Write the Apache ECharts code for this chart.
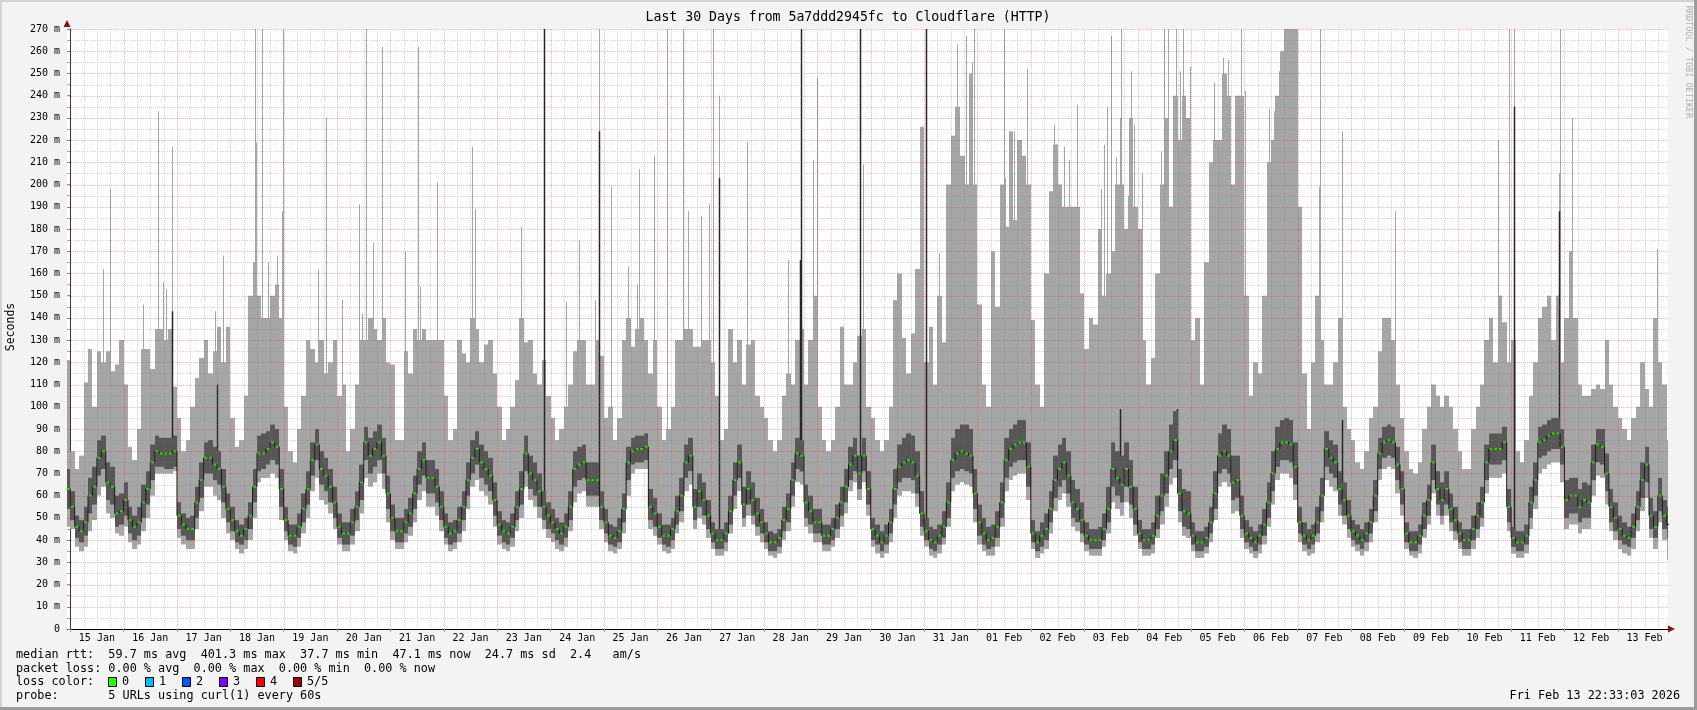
<!DOCTYPE html>
<html><head><meta charset="utf-8">
<script src="https://cdn.jsdelivr.net/npm/echarts@6/dist/echarts.min.js"></script>
<style>html,body{margin:0;padding:0;background:#f3f3f3}#c{width:1697px;height:710px}</style>
</head><body><div id="c"></div>
<script>
// ---- categories / tick labels ----
const dayLabels = ['15 Jan','16 Jan','17 Jan','18 Jan','19 Jan','20 Jan','21 Jan','22 Jan','23 Jan','24 Jan','25 Jan','26 Jan','27 Jan','28 Jan','29 Jan','30 Jan','31 Jan','01 Feb','02 Feb','03 Feb','04 Feb','05 Feb','06 Feb','07 Feb','08 Feb','09 Feb','10 Feb','11 Feb','12 Feb','13 Feb'];
// time axis in hours relative to 15 Jan 00:00; bins of 2 h, first bin centred at -1 h (14 Jan 23:00)
const firstBinHour = -1;
const binHours = 2;
// ---- series values (ms), one row per day, 12 two-hour bins ----
const med = [63,
55,46,44,48,60,64,77,80,66,64,52,53,
58,49,46,48,57,63,75,80,79,79,79,80,
51,47,45,45,57,67,77,77,74,72,64,54,
49,44,42,45,51,64,79,79,81,84,82,63,
49,42,42,46,54,63,76,83,72,69,64,57,
46,43,43,48,55,66,84,78,81,84,78,61,
50,44,44,48,52,61,72,76,68,68,64,55,
46,43,44,49,55,67,77,81,75,72,69,58,
47,44,43,46,55,63,79,70,67,62,55,51,
48,45,43,46,55,72,74,75,67,67,67,55,
48,42,41,44,54,75,80,81,81,82,55,52,
46,42,42,45,53,60,75,78,55,62,58,51,
43,40,40,43,53,67,75,56,63,58,52,48,
43,39,39,41,49,54,67,79,78,57,53,48,
48,42,42,45,50,57,64,74,78,70,78,63,
45,42,39,42,48,63,73,75,76,75,69,52,
44,40,39,42,46,57,76,79,80,79,78,61,
48,43,40,41,46,57,76,81,83,84,84,73,
43,39,42,45,54,67,72,75,69,57,54,49,
42,40,40,40,45,54,72,68,65,72,64,54,
43,40,40,42,51,60,69,80,85,61,53,52,
42,39,39,41,48,61,78,80,78,66,67,51,
43,41,39,42,47,57,70,81,84,84,83,73,
48,42,40,42,48,60,81,77,75,63,58,51,
44,42,40,43,48,60,79,84,85,84,74,63,
43,39,39,42,51,58,75,63,58,63,54,49,
43,40,40,45,51,57,75,81,81,81,84,55,
41,39,39,42,57,67,84,85,87,88,88,82,
58,60,60,55,58,57,75,83,82,70,55,50,
45,42,41,46,55,67,74,51,46,60,51,47];
const darkLo = [54,
49,41,39,42,52,56,69,72,58,56,46,47,
51,43,40,42,50,56,67,73,73,72,72,73,
45,42,40,40,50,59,70,70,67,65,57,48,
44,39,38,40,45,57,71,72,74,76,74,55,
44,38,37,41,48,56,69,76,65,62,57,50,
41,38,38,42,49,58,76,70,73,76,70,54,
44,39,39,43,46,54,65,69,61,61,57,49,
41,38,39,43,49,60,70,74,68,65,62,51,
42,39,38,41,49,56,71,63,60,55,49,45,
43,40,38,41,49,64,67,68,60,60,60,49,
43,38,37,39,48,67,74,75,75,76,49,46,
41,38,37,40,47,53,68,71,49,55,51,45,
39,36,36,39,47,60,68,50,56,51,46,43,
39,35,35,37,44,48,60,72,71,50,47,43,
43,38,38,40,45,51,57,67,71,63,71,56,
40,38,35,38,43,56,66,68,68,67,61,46,
40,36,35,38,41,50,68,71,72,71,70,54,
42,38,36,37,41,50,68,73,75,76,76,64,
39,35,37,40,48,59,64,67,61,50,48,43,
38,36,36,36,40,48,64,60,57,64,56,47,
39,36,36,38,45,53,61,72,76,53,46,45,
38,35,35,37,43,54,70,72,70,58,59,45,
39,37,35,38,42,50,62,73,76,76,75,65,
43,38,36,38,43,53,73,70,68,56,51,45,
40,38,36,39,43,53,72,77,78,77,67,56,
39,35,35,38,45,51,67,56,51,56,48,44,
39,36,36,40,45,50,67,74,74,74,76,48,
37,35,35,38,50,60,77,78,80,81,81,74,
50,52,52,48,50,50,67,75,74,62,48,44,
40,38,37,41,49,59,66,45,41,53,45,41];
const darkHi = [72,
62,51,49,55,68,73,85,87,75,73,60,61,
66,55,51,55,65,71,83,87,86,86,86,87,
57,52,50,51,64,75,84,85,82,80,72,61,
55,49,47,50,57,72,87,88,89,92,90,72,
55,47,47,52,61,71,84,90,80,77,72,64,
52,48,48,54,62,74,91,86,89,92,86,69,
56,50,50,54,59,69,80,84,76,76,72,62,
52,48,49,55,62,75,85,89,83,80,77,66,
53,49,48,52,62,71,87,78,75,70,62,57,
54,50,48,52,62,80,82,83,75,75,75,62,
54,47,46,50,61,82,86,87,87,88,63,59,
52,47,47,50,60,68,83,86,63,70,66,58,
48,45,45,48,60,75,83,64,71,66,59,54,
48,44,43,45,55,61,75,86,85,65,60,54,
54,47,47,50,56,64,72,82,86,78,86,71,
50,47,44,47,54,72,83,86,88,87,80,62,
50,46,45,47,53,66,86,90,92,92,90,72,
56,50,46,47,53,66,86,90,92,94,94,84,
49,44,48,52,62,78,83,86,80,67,63,57,
48,45,45,46,52,64,84,80,78,84,76,64,
49,45,45,48,60,70,80,92,98,72,63,62,
48,44,44,46,55,71,88,92,90,78,78,60,
49,46,44,47,54,66,80,91,94,95,94,84,
55,48,45,47,55,68,89,85,83,71,66,58,
49,47,45,48,54,67,86,91,92,91,82,71,
48,44,44,47,57,65,83,71,66,71,61,55,
48,45,45,51,57,64,83,88,88,88,91,63,
46,44,44,47,64,75,91,92,94,95,95,90,
67,68,68,63,66,65,83,90,90,79,63,57,
51,48,46,52,62,75,82,59,53,68,58,55];
const lightLo = [46,
45,37,35,37,44,49,60,64,52,50,43,42,
46,39,36,38,44,50,60,70,70,70,70,71,
41,38,36,36,45,53,64,64,60,58,50,43,
40,36,34,36,40,50,66,68,68,70,68,49,
40,35,34,37,43,50,62,68,58,56,52,45,
38,35,35,38,44,52,68,64,66,70,63,48,
40,36,36,39,42,48,58,62,55,55,51,44,
38,35,36,39,44,54,64,67,62,60,56,46,
38,36,35,37,44,50,64,58,55,50,45,41,
39,36,35,37,44,57,61,62,55,55,55,45,
39,35,34,36,43,60,70,72,72,72,45,42,
38,35,34,36,43,48,62,65,45,50,47,41,
36,33,33,35,43,54,62,46,51,47,42,39,
36,33,32,34,40,44,55,66,65,46,43,39,
39,35,35,37,41,46,52,62,66,58,66,51,
37,34,32,34,39,50,60,62,62,61,55,42,
37,33,32,34,38,46,62,65,66,65,64,48,
38,35,33,33,37,46,62,67,69,70,70,58,
36,32,34,36,43,53,58,61,55,46,44,39,
35,33,33,33,37,43,57,54,51,57,50,42,
36,33,33,34,41,47,55,65,68,48,42,41,
35,32,32,34,39,49,64,66,64,52,53,41,
36,34,32,34,38,46,56,67,70,70,68,58,
39,35,33,34,39,48,67,64,62,51,47,41,
37,35,33,35,39,48,67,72,73,72,61,51,
36,33,32,34,41,47,61,51,47,51,44,40,
36,33,33,36,41,46,61,68,68,68,70,44,
34,32,32,34,45,54,70,72,74,75,75,66,
45,47,47,43,45,45,60,69,68,56,44,40,
36,34,33,36,44,53,59,41,36,48,40,31];
const lightHi = [121,
80,72,78,111,126,100,125,120,125,116,119,130,
110,82,76,90,126,126,117,135,135,130,135,109,
95,80,85,100,113,122,130,115,125,136,120,136,
95,82,85,105,150,165,150,140,140,150,155,140,
100,80,75,90,105,130,126,120,130,115,120,130,
105,110,80,90,110,130,130,140,135,130,140,120,
119,85,85,125,115,135,130,135,130,130,130,130,
105,85,90,130,124,120,140,135,120,128,130,115,
100,85,90,100,112,140,129,130,115,110,121,105,
95,85,90,100,110,125,130,130,110,110,130,123,
95,100,85,95,130,140,127,135,140,130,115,130,
100,85,90,100,130,130,135,135,127,127,130,130,
120,105,85,90,135,120,130,110,128,130,105,100,
95,85,80,85,105,115,110,130,135,110,130,150,
100,85,80,85,100,136,110,110,120,132,135,100,
95,85,80,85,100,148,160,131,115,133,162,226,
120,136,110,150,129,200,222,235,213,200,250,200,
146,110,100,170,145,200,181,224,184,220,213,200,
139,110,100,160,197,218,200,190,190,190,190,151,
126,140,137,180,150,160,170,200,200,180,230,190,
180,130,110,122,160,200,230,190,240,220,240,230,
130,140,110,165,210,220,220,250,240,200,240,240,
150,105,120,115,150,210,220,240,260,270,270,270,
190,115,90,120,150,130,110,110,120,140,100,90,
85,75,72,80,95,100,125,140,140,130,110,95,
80,72,70,75,90,100,110,105,100,105,100,90,
80,72,72,90,100,110,130,140,120,150,138,120,
130,80,75,85,105,120,140,145,150,130,150,120,
140,170,140,110,105,105,108,110,108,130,110,100,
95,90,85,95,100,120,108,100,140,120,110,85];
// thin single-sample outliers: [hour, ms]
const lightSpikes = [[14.7,162],[17.9,198],[32.9,146],[39.6,233],[41.6,156],[43.1,153],[45.6,195],[45.8,217],[65.1,143],[68.9,168],
[83.1,270],[83.7,219],[86.4,270],[89.0,165],[93.2,168],[95.3,188],[95.6,270],[111.6,162],[115.1,230],[122.1,148],[129.9,191],[131.0,142],[133.1,270],
[136.1,174],[140.3,262],[150.6,170],[156.6,262],[157.5,154],[164.9,201],[180.6,217],[182.1,189],[202.8,181],[223.0,147],[228.6,175],[236.0,148],[237.9,270],[243.3,199],
[250.9,163],[255.0,155],[255.6,207],[262.4,213],[268.4,270],[275.4,270],[277.7,188],[283.7,186],[287.4,191],[289.1,270],[291.6,240],[304.4,219],
[322.7,166],[334.1,211],[335.9,248],[356.4,209],[383.1,226],[390.6,169],[396.3,222],[398.1,235],[398.9,263],[401.9,213],
[402.9,267],[405.6,255],[406.4,270],[419.9,270],[420.6,203],[424.4,224],[426.6,220],[430.4,252],[442.4,227],[443.1,218],
[446.9,217],[449.1,211],[452.9,236],[463.6,198],[464.7,218],[466.4,235],[468.1,267],[470.2,212],[471.9,230],[472.6,270],
[475.6,195],[476.9,251],[478.5,227],[481.9,205],[490.5,215],[491.9,270],[493.9,270],[497.2,270],[498.9,251],[500.5,270],
[503.5,253],[514.3,246],[518.5,257],[520.5,256],[525.2,230],[526.3,270],[528.5,242],[539.3,234],[541.3,233],[543.8,251],
[561.8,199],[562.1,270],[571.8,224],[595.8,188],[642.1,220],[647.0,270],[649.2,270],[669.5,205],[670.0,270],[675.4,230],[713.6,171]];
const darkSpikes = [[45.8,143],[65.9,110],[212.9,270],[237.9,224],[291.6,203],[328.2,166],[328.7,270],[355.4,270],[384.9,270],
[471.9,99],[497.9,99],[572.1,94],[649.2,235],[669.5,188]];

// ---- build ----
const X_MIN = -1.45, X_MAX = 718.55;
const binIndex = h => Math.max(0, Math.min(med.length - 1, Math.round((h - firstBinHour) / binHours)));
const hours = med.map((_, i) => firstBinHour + i * binHours);
const lightData = hours.map((h, i) => [h, lightLo[i], lightHi[i]]);
const darkData = hours.map((h, i) => [h, darkLo[i], darkHi[i]]);
const medData = hours.map((h, i) => [h, med[i]]);
const lightSpikeData = lightSpikes.map(s => [s[0], s[1], lightLo[binIndex(s[0])]]);
const darkSpikeData = darkSpikes.map(s => [s[0], s[1], darkLo[binIndex(s[0])]]);
const midnights = [], noons = [], vGrid = [], hGrid = [];
for (let d = 0; d < 30; d++) { midnights.push(d * 24); noons.push(d * 24 + 12); }
for (let h = 0; h <= X_MAX; h += 6) vGrid.push([h, 0, h % 24 === 0 ? 1 : 0]);
for (let v = 5; v <= 270; v += 5) hGrid.push([X_MIN, v, v % 10 === 0 ? 1 : 0]);

const MONO = '"DejaVu Sans Mono", monospace';
const MAJOR = 'rgba(255,0,0,0.30)', MINOR = 'rgba(120,120,120,0.32)';

function band(color) {
  return (p, api) => {
    const h = api.value(0);
    const a = api.coord([h - binHours / 2, api.value(2)]);
    const b = api.coord([h + binHours / 2, api.value(1)]);
    const x1 = Math.round(a[0]), x2 = Math.round(b[0]);
    return { type: 'rect', shape: { x: x1, y: a[1], width: x2 - x1, height: b[1] - a[1] }, style: { fill: color } };
  };
}
function spike(color, w) {
  return (p, api) => {
    const t = api.coord([api.value(0), api.value(1)]);
    const b = api.coord([api.value(0), api.value(2)]);
    const x = Math.round(t[0]) + 0.5;
    return { type: 'line', shape: { x1: x, y1: b[1], x2: x, y2: t[1] }, style: { stroke: color, lineWidth: w } };
  };
}
function vLine(p, api) {
  const a = api.coord([api.value(0), 0]), b = api.coord([api.value(0), 270]);
  const x = Math.round(a[0]) + 0.5;
  return { type: 'line', shape: { x1: x, y1: a[1], x2: x, y2: b[1] }, style: { stroke: api.value(2) ? MAJOR : MINOR, lineWidth: 1, lineDash: [1, 1] } };
}
function hLine(p, api) {
  const a = api.coord([X_MIN, api.value(1)]), b = api.coord([X_MAX, api.value(1)]);
  const y = Math.round(a[1]) + 0.5;
  return { type: 'line', shape: { x1: a[0], y1: y, x2: b[0], y2: y }, style: { stroke: api.value(2) ? MAJOR : MINOR, lineWidth: 1, lineDash: [1, 1] } };
}

const txt = (x, y, text, opt) => Object.assign({ type: 'text', x, y, silent: true,
  style: Object.assign({ text, font: '11.8px ' + MONO, fill: '#000', align: 'left', verticalAlign: 'middle', textAlign: 'left', textVerticalAlign: 'middle' }, opt || {}) });
const lossColors = [['0', '#26ff00'], ['1', '#00b8ff'], ['2', '#0059ff'], ['3', '#7e00ff'], ['4', '#ff0000'], ['5/5', '#a10000']];
const graphics = [
  { type: 'rect', shape: { x: 0, y: 0, width: 1697, height: 2 }, style: { fill: '#d2d2d2' }, silent: true },
  { type: 'rect', shape: { x: 0, y: 0, width: 2, height: 710 }, style: { fill: '#d2d2d2' }, silent: true },
  { type: 'rect', shape: { x: 0, y: 707, width: 1697, height: 3 }, style: { fill: '#9c9c9c' }, silent: true },
  { type: 'rect', shape: { x: 1694, y: 0, width: 3, height: 710 }, style: { fill: '#9c9c9c' }, silent: true },
  txt(848, 18, 'Last 30 Days from 5a7ddd2945fc to Cloudflare (HTTP)', { font: '13.2px ' + MONO, align: 'center', textAlign: 'center' }),
  Object.assign(txt(11, 327, 'Seconds', { font: '11.5px ' + MONO, align: 'center', textAlign: 'center' }), { rotation: Math.PI / 2 }),
  Object.assign(txt(1688, 62, 'RRDTOOL / TOBI OETIKER', { font: '8.5px ' + MONO, fill: '#b0b0b0', align: 'center', textAlign: 'center' }), { rotation: -Math.PI / 2 }),
  txt(16, 655, 'median rtt:  59.7 ms avg  401.3 ms max  37.7 ms min  47.1 ms now  24.7 ms sd  2.4   am/s'),
  txt(16, 669, 'packet loss: 0.00 % avg  0.00 % max  0.00 % min  0.00 % now'),
  txt(16, 682, 'loss color:'),
  txt(16, 696, 'probe:       5 URLs using curl(1) every 60s'),
  txt(1680, 696, 'Fri Feb 13 22:33:03 2026', { align: 'right', textAlign: 'right' }),
  { type: 'polygon', shape: { points: [[63.5, 27], [70.5, 27], [67, 20]] }, style: { fill: '#8b1010' }, silent: true },
  { type: 'polygon', shape: { points: [[1668, 625.5], [1668, 632.5], [1675, 629]] }, style: { fill: '#8b1010' }, silent: true }
];
lossColors.forEach((c, i) => {
  const x = 108 + i * 37;
  graphics.push({ type: 'rect', shape: { x: x + 0.5, y: 677.5, width: 8, height: 9 }, style: { fill: c[1], stroke: '#000', lineWidth: 1 }, silent: true });
  graphics.push(txt(x + 14, 682, c[0]));
});

const chart = echarts.init(document.getElementById('c'));
chart.setOption({
  animation: false,
  backgroundColor: '#f3f3f3',
  grid: { left: 67, top: 29, width: 1601, height: 600, show: true, backgroundColor: '#ffffff', borderWidth: 0 },
  xAxis: {
    type: 'value', min: X_MIN, max: X_MAX,
    axisLine: { show: true, onZero: false, lineStyle: { color: '#000', width: 1 } },
    axisTick: { show: true, customValues: midnights, length: 3, lineStyle: { color: '#e08080' } },
    axisLabel: { customValues: noons, formatter: v => dayLabels[Math.round((v - 12) / 24)], fontFamily: MONO, fontSize: 10, color: '#000', margin: 4 },
    splitLine: { show: false }
  },
  yAxis: {
    type: 'value', min: 0, max: 270, interval: 10,
    axisLine: { show: true, lineStyle: { color: '#333', width: 1 } },
    axisTick: { show: true, length: 3, lineStyle: { color: '#888' } },
    minorTick: { show: true, splitNumber: 2, length: 3, lineStyle: { color: '#aaa' } },
    axisLabel: { formatter: v => v === 0 ? '0' : v + ' m', fontFamily: MONO, fontSize: 10, color: '#000', margin: 7 },
    splitLine: { show: false }
  },
  graphic: graphics,
  series: [
    { type: 'custom', name: 'smoke', renderItem: band('#a6a6a6'), data: lightData, encode: { x: 0, y: [1, 2] }, clip: true, z: 2, silent: true },
    { type: 'custom', name: 'outliers', renderItem: spike('#a6a6a6', 1), data: lightSpikeData, encode: { x: 0, y: [1, 2] }, clip: true, z: 3, silent: true },
    { type: 'custom', name: 'darkOutliers', renderItem: spike('#262626', 1.5), data: darkSpikeData, encode: { x: 0, y: [1, 2] }, clip: true, z: 4, silent: true },
    { type: 'custom', name: 'core', renderItem: band('#575757'), data: darkData, encode: { x: 0, y: [1, 2] }, clip: true, z: 5, silent: true },
    { type: 'line', name: 'median', data: medData, step: 'middle', symbol: 'none', lineStyle: { color: '#1b1b1b', width: 1 }, z: 6, silent: true },
    { type: 'scatter', name: 'median dots', data: medData, symbol: 'rect', symbolSize: [3, 2], itemStyle: { color: '#22ff00' }, z: 7, silent: true },
    { type: 'custom', name: 'vgrid', renderItem: vLine, data: vGrid, encode: { x: 0, y: 1 }, z: 10, silent: true },
    { type: 'custom', name: 'hgrid', renderItem: hLine, data: hGrid, encode: { x: 0, y: 1 }, z: 10, silent: true }
  ]
});
</script>
</body></html>
